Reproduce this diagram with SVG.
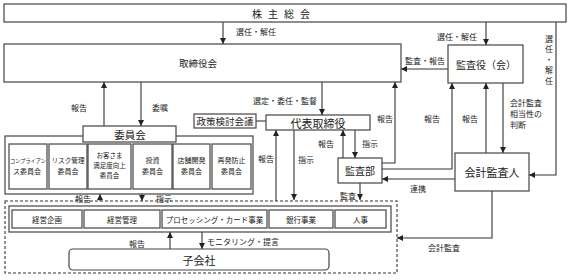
<svg xmlns="http://www.w3.org/2000/svg" width="571" height="280" viewBox="0 0 571 280">
<defs>
<marker id="ah" viewBox="0 0 10 10" refX="10" refY="5" markerWidth="6" markerHeight="6" markerUnits="userSpaceOnUse" orient="auto"><path d="M0,0 L10,5 L0,10 z" fill="#222"/></marker>
<style>
text{font-family:"Noto Sans CJK JP","Noto Sans CJK SC",sans-serif;fill:#222;text-anchor:middle;dominant-baseline:central}
.box{fill:#fff;stroke:#444;stroke-width:1.2}
.c{fill:none;stroke:#333;stroke-width:1.1}
.a{fill:none;stroke:#333;stroke-width:1.1;marker-end:url(#ah)}
.lb{font-size:8px}
.sm{font-size:7px}
.st{text-anchor:start}
</style>
</defs>
<rect width="571" height="280" fill="#fff"/>

<g id="connectors">
<path class="a" d="M223,22 V44"/>
<path class="a" d="M486,22 V45"/>
<path class="a" d="M448,69 H401"/>
<path class="a" d="M556,22 V175 H529"/>
<path class="a" d="M104,126 V82"/>
<path class="a" d="M141,82 V126"/>
<path class="a" d="M322,82 V115"/>
<path class="c" d="M256,121 H266"/>
<path class="a" d="M100,201 V194"/>
<path class="a" d="M142,194 V201"/>
<path class="a" d="M276,201 V130"/>
<path class="a" d="M294,130 V200"/>
<path class="a" d="M343,158 V130"/>
<path class="a" d="M355,130 V158"/>
<path class="a" d="M382,163 H395 V82"/>
<path class="a" d="M382,169 H452 V83"/>
<path class="a" d="M486,153 V83"/>
<path class="a" d="M503,83 V153"/>
<path class="a" d="M455,179 H382"/>
<path class="a" d="M360,183 V200"/>
<path class="a" d="M492,191 V238 H397"/>
<path class="a" d="M170,249 V232"/>
<path class="a" d="M202,232 V249"/>
<text class="lb" x="256" y="31">選任・解任</text>
<text class="lb" x="457" y="36">選任・解任</text>
<text class="lb" x="425" y="60">監査・報告</text>
<text class="lb" x="549" y="38">選</text>
<text class="lb" x="549" y="48.5">任</text>
<text class="lb" x="549" y="59">・</text>
<text class="lb" x="549" y="69.5">解</text>
<text class="lb" x="549" y="80">任</text>
<text class="lb" x="79" y="107">報告</text>
<text class="lb" x="160" y="107">委嘱</text>
<text class="lb" x="285" y="100">選定・委任・監督</text>
<text class="lb" x="266" y="158">報告</text>
<text class="lb" x="306" y="159">指示</text>
<text class="lb" x="326" y="143">報告</text>
<text class="lb" x="370" y="143">指示</text>
<text class="lb" x="385" y="118">報告</text>
<text class="lb" x="432" y="118">報告</text>
<text class="lb" x="470" y="118">報告</text>
<text class="lb st" x="510" y="102">会計監査</text>
<text class="lb st" x="510" y="113">相当性の</text>
<text class="lb st" x="510" y="124">判断</text>
<text class="lb" x="418" y="188">連携</text>
<text class="lb" x="348" y="195">監査</text>
<text class="lb" x="444" y="247">会計監査</text>
<text class="lb" x="83" y="198">報告</text>
<text class="lb" x="164" y="198">指示</text>
<text class="lb" x="137" y="243">報告</text>
<text class="lb" x="243" y="241">モニタリング・提言</text>
</g>

<g id="shareholders">
<rect class="box" x="4" y="4" width="562" height="18"/>
<text x="284" y="13.5" style="font-size:10px;letter-spacing:6px">株主総会</text>
</g>

<g id="board">
<rect class="box" x="4" y="44" width="397" height="38"/>
<text x="198" y="63" style="font-size:9.5px">取締役会</text>
</g>

<g id="auditors">
<rect class="box" x="448" y="45" width="75" height="38"/>
<text x="486" y="64" style="font-size:10px">監査役（会）</text>
</g>

<g id="committees">
<rect class="box" x="5" y="136" width="248" height="58"/>
<rect class="box" x="83" y="126" width="93" height="16"/>
<text x="130" y="134" style="font-size:10.5px">委員会</text>
<rect class="box" x="9" y="144" width="38" height="45"/>
<text x="28" y="160" style="font-size:5.2px">コンプライアン</text>
<text class="sm" x="27" y="171">ス委員会</text>
<rect class="box" x="49" y="144" width="38" height="45"/>
<text x="68" y="160" style="font-size:6.6px">リスク管理</text>
<text class="sm" x="68" y="171">委員会</text>
<rect class="box" x="88" y="144" width="43" height="45"/>
<text x="109.5" y="155" style="font-size:6.5px">お客さま</text>
<text x="109.5" y="165" style="font-size:6.5px">満足度向上</text>
<text x="109.5" y="175" style="font-size:6.5px">委員会</text>
<rect class="box" x="133" y="144" width="39" height="45"/>
<text class="sm" x="152.5" y="160">投資</text>
<text class="sm" x="152.5" y="171">委員会</text>
<rect class="box" x="173" y="144" width="37" height="45"/>
<text class="sm" x="191.5" y="160">店舗開発</text>
<text class="sm" x="191.5" y="171">委員会</text>
<rect class="box" x="212" y="144" width="39" height="45"/>
<text class="sm" x="231.5" y="160">再発防止</text>
<text class="sm" x="231.5" y="171">委員会</text>
</g>

<g id="policy">
<rect class="box" x="194" y="114" width="62" height="14"/>
<text x="225" y="121" style="font-size:9.5px">政策検討会議</text>
</g>

<g id="ceo">
<rect class="box" x="266" y="115" width="104" height="15"/>
<text x="318" y="122.5" style="font-size:11px">代表取締役</text>
</g>

<g id="audit-dept">
<rect class="box" x="338" y="158" width="44" height="25"/>
<text x="360" y="170.5" style="font-size:10px">監査部</text>
</g>

<g id="accounting-auditor">
<rect class="box" x="455" y="153" width="74" height="38"/>
<text x="492" y="172" style="font-size:11px">会計監査人</text>
</g>

<g id="group">
<rect x="5" y="201" width="392" height="72" fill="none" stroke="#333" stroke-width="1.1" stroke-dasharray="3,2"/>
<rect class="box" x="9" y="206" width="382" height="26"/>
<rect class="box" x="12" y="210" width="70" height="18"/>
<text x="47" y="219" style="font-size:7.5px">経営企画</text>
<rect class="box" x="84" y="210" width="76" height="18"/>
<text x="122" y="219" style="font-size:7.5px">経営管理</text>
<rect class="box" x="162" y="210" width="105" height="18"/>
<text x="214.5" y="219" style="font-size:7.5px">プロセッシング・カード事業</text>
<rect class="box" x="269" y="210" width="64" height="18"/>
<text x="301" y="219" style="font-size:7.5px">銀行事業</text>
<rect class="box" x="335" y="210" width="51" height="18"/>
<text x="360.5" y="219" style="font-size:7.5px">人事</text>
</g>

<g id="subsidiary">
<rect class="box" x="69" y="249" width="260" height="21" rx="4"/>
<text x="199" y="259.5" style="font-size:11px">子会社</text>
</g>
</svg>
